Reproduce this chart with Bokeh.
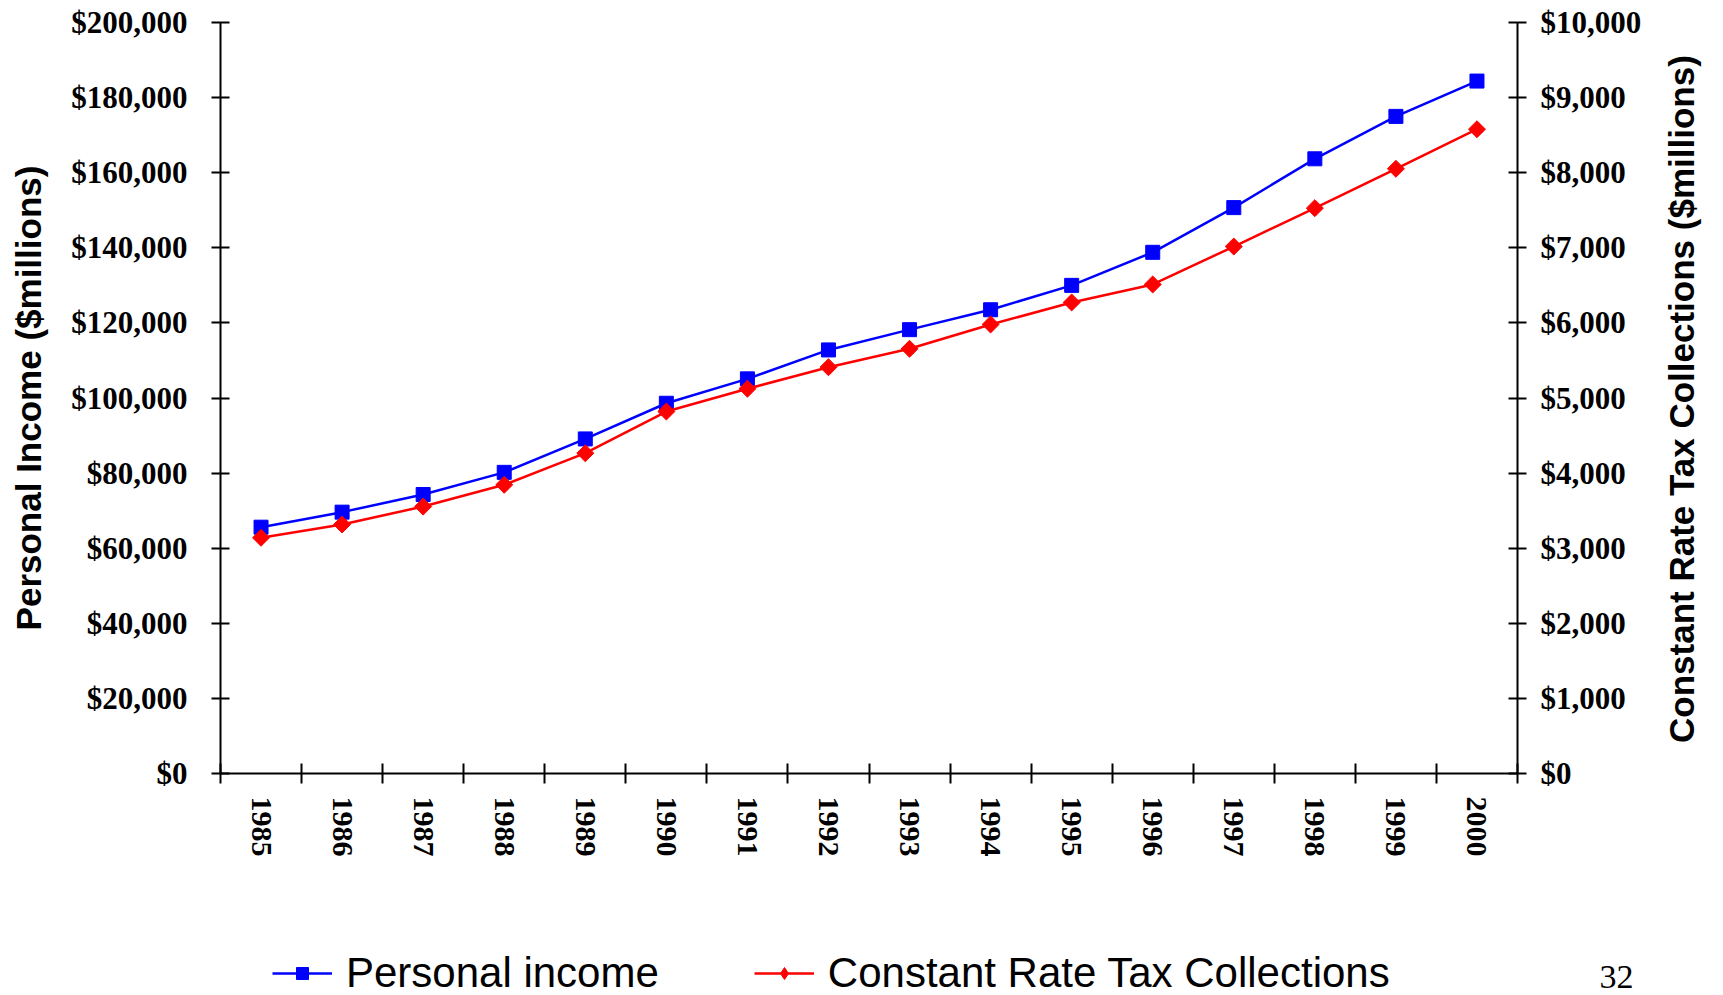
import math
from bokeh.plotting import figure
from bokeh.layouts import column
from bokeh.models import (LinearAxis, Range1d, FixedTicker, NumeralTickFormatter,
                          Legend, LegendItem)
from bokeh.embed import file_html
from bokeh.resources import INLINE

# ---- data ----
years = [1985, 1986, 1987, 1988, 1989, 1990, 1991, 1992,
         1993, 1994, 1995, 1996, 1997, 1998, 1999, 2000]
personal_income = [65600, 69600, 74300, 80200, 89100, 98600, 105100, 112800,
                   118200, 123500, 130000, 138800, 150700, 163700, 175000, 184400]
tax_collections = [3139, 3316, 3555, 3844, 4265, 4820, 5123, 5410,
                   5655, 5979, 6272, 6512, 7017, 7528, 8052, 8579]
left_ticks = [0, 20000, 40000, 60000, 80000, 100000, 120000, 140000, 160000, 180000, 200000]
right_ticks = [0, 1000, 2000, 3000, 4000, 5000, 6000, 7000, 8000, 9000, 10000]
year_labels = [str(y) for y in years]
series_names = ["Personal income", "Constant Rate Tax Collections"]
left_title = "Personal Income ($millions)"
right_title = "Constant Rate Tax Collections ($millions)"
page_number = "32"

SERIF = "Liberation Serif"
SANS = "Liberation Sans"
BLUE = "#0000FF"
RED = "#FF0000"

W = 1723
H_MAIN = 890
H_BOTTOM = 105
BL, BR = 220, 205
FRAME_H = 751
TOP = 22

p = figure(width=W, height=H_MAIN,
           x_range=Range1d(years[0] - 0.5, years[-1] + 0.5),
           y_range=Range1d(0, 200000),
           output_backend="svg", toolbar_location=None,
           min_border_left=BL, min_border_right=BR,
           min_border_top=TOP, min_border_bottom=H_MAIN - TOP - FRAME_H)
p.extra_y_ranges = {"right": Range1d(0, 10000)}
p.xgrid.visible = False
p.ygrid.visible = False
p.outline_line_color = None

# x axis
xa = p.xaxis[0]
xa.ticker = FixedTicker(ticks=years, minor_ticks=[y - 0.5 for y in years] + [years[-1] + 0.5])
xa.major_label_overrides = {y: lab for y, lab in zip(years, year_labels)}
xa.major_label_orientation = "vertical"
xa.major_tick_in = 0
xa.major_tick_out = 10
xa.major_tick_line_color = None
xa.minor_tick_in = 10
xa.minor_tick_out = 10
xa.minor_tick_line_width = 2
xa.minor_tick_line_color = "black"
xa.axis_line_width = 2
xa.axis_line_color = "black"
xa.major_label_text_font = SERIF
xa.major_label_text_font_style = "bold"
xa.major_label_text_font_size = "30px"
xa.major_label_text_color = "black"
xa.major_label_standoff = 13

# left axis
ya = p.yaxis[0]
ya.ticker = FixedTicker(ticks=left_ticks, minor_ticks=[])
ya.formatter = NumeralTickFormatter(format="$0,0")
ya.major_tick_in = 9
ya.major_tick_out = 9
ya.major_tick_line_width = 2
ya.major_tick_line_color = "black"
ya.minor_tick_line_color = None
ya.axis_line_width = 2
ya.axis_line_color = "black"
ya.major_label_text_font = SERIF
ya.major_label_text_font_style = "bold"
ya.major_label_text_font_size = "31px"
ya.major_label_text_color = "black"
ya.major_label_standoff = 24
ya.axis_label = left_title
ya.axis_label_text_font = SANS
ya.axis_label_text_font_style = "bold"
ya.axis_label_text_font_size = "35px"
ya.axis_label_text_color = "black"
ya.axis_label_standoff = 20

# right axis
ra = LinearAxis(y_range_name="right")
ra.ticker = FixedTicker(ticks=right_ticks, minor_ticks=[])
ra.formatter = NumeralTickFormatter(format="$0,0")
ra.major_tick_in = 9
ra.major_tick_out = 9
ra.major_tick_line_width = 2
ra.major_tick_line_color = "black"
ra.minor_tick_line_color = None
ra.axis_line_width = 2
ra.axis_line_color = "black"
ra.major_label_text_font = SERIF
ra.major_label_text_font_style = "bold"
ra.major_label_text_font_size = "31px"
ra.major_label_text_color = "black"
ra.major_label_standoff = 14
p.add_layout(ra, "right")

# right axis title, drawn as a single rotated label reading bottom-to-top
# (anchor value chosen so the rotated text ends up centred on the axis)
title_anchor = 1863
rt = LinearAxis(y_range_name="right")
rt.ticker = FixedTicker(ticks=[title_anchor], minor_ticks=[])
rt.major_label_overrides = {title_anchor: right_title}
rt.major_label_orientation = math.pi / 2
rt.axis_line_color = None
rt.major_tick_line_color = None
rt.minor_tick_line_color = None
rt.major_tick_in = 0
rt.major_tick_out = 0
rt.major_label_standoff = 37
rt.major_label_text_font = SANS
rt.major_label_text_font_style = "bold"
rt.major_label_text_font_size = "35px"
rt.major_label_text_color = "black"
p.add_layout(rt, "right")

# series
p.line(years, personal_income, line_color=BLUE, line_width=2.5)
p.scatter(years, personal_income, marker="square", size=14,
          fill_color=BLUE, line_color=BLUE)
p.line(years, tax_collections, line_color=RED, line_width=2.5, y_range_name="right")
p.scatter(years, tax_collections, marker="square", angle=math.pi / 4, size=12,
          fill_color=RED, line_color=RED, y_range_name="right")

# bottom strip: legend + page number
b = figure(width=W, height=H_BOTTOM, x_range=Range1d(0, W - BL - BR), y_range=Range1d(0, H_BOTTOM),
           x_axis_type=None, y_axis_type=None,
           output_backend="svg", toolbar_location=None,
           min_border_left=BL, min_border_right=BR, min_border_top=0, min_border_bottom=0)
b.xgrid.visible = False
b.ygrid.visible = False
b.outline_line_color = None

# legend sample renderers (their data lie outside this strip's ranges, so only the legend shows them)
lb = b.line(years, personal_income, line_color=BLUE, line_width=2.5)
sb = b.scatter(years, personal_income, marker="square", size=14, fill_color=BLUE, line_color=BLUE)
lr = b.line(years, tax_collections, line_color=RED, line_width=2.5)
sr = b.scatter(years, tax_collections, marker="diamond", size=16,
               fill_color=RED, line_color=RED)

legend = Legend(items=[LegendItem(label=series_names[0], renderers=[lb, sb]),
                       LegendItem(label=series_names[1], renderers=[lr, sr])],
                orientation="horizontal", location=(52, -2),
                glyph_width=60, glyph_height=30, label_standoff=14, spacing=95,
                padding=0, margin=0, border_line_color=None,
                background_fill_alpha=0,
                label_text_font=SANS, label_text_font_size="42px",
                label_text_color="black")
b.add_layout(legend)

# page number shown as a lone tick label on the strip's right side
pn = LinearAxis()
pn.ticker = FixedTicker(ticks=[19], minor_ticks=[])
pn.major_label_overrides = {19: page_number}
pn.axis_line_color = None
pn.major_tick_line_color = None
pn.minor_tick_line_color = None
pn.major_tick_in = 0
pn.major_tick_out = 0
pn.major_label_standoff = 82
pn.major_label_text_font = SERIF
pn.major_label_text_font_size = "34px"
pn.major_label_text_color = "black"
b.add_layout(pn, "right")

open("out.html", "w").write(file_html(column(p, b, spacing=0), INLINE))
